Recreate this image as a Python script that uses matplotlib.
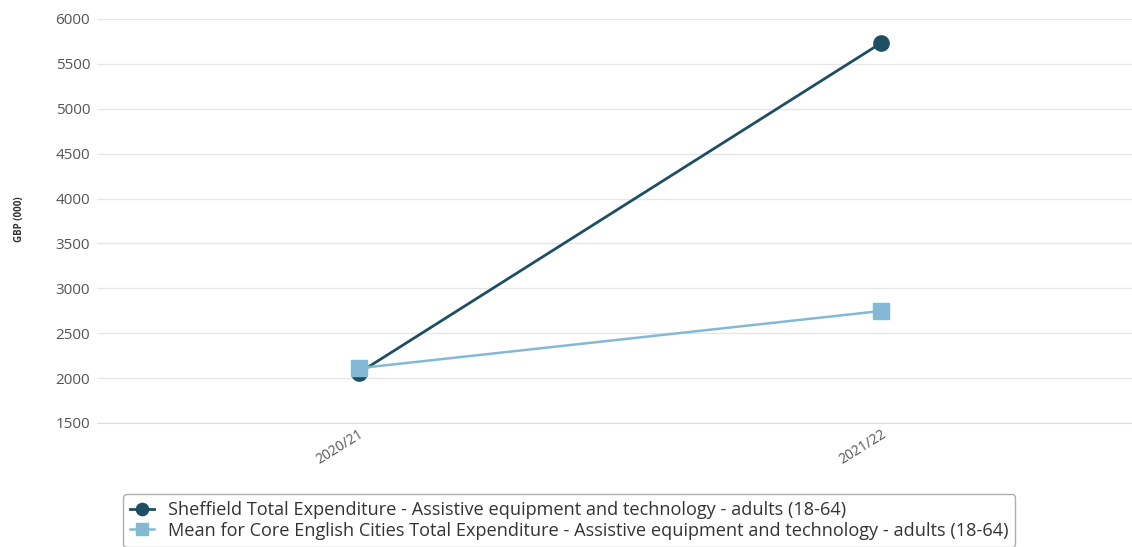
import matplotlib
matplotlib.use("Agg")
import matplotlib.pyplot as plt

plt.rcParams['font.family'] = ['Open Sans', 'DejaVu Sans']

years = ['2020/21', '2021/22']
sheffield = [2055, 5735]
core_cities_mean = [2110, 2748]
yticks = [1500, 2000, 2500, 3000, 3500, 4000, 4500, 5000, 5500, 6000]

label_sheffield = 'Sheffield Total Expenditure - Assistive equipment and technology - adults (18-64)'
label_mean = 'Mean for Core English Cities Total Expenditure - Assistive equipment and technology - adults (18-64)'

dark = '#1d4e63'
light = '#84b9d6'

fig = plt.figure(figsize=(11.32, 5.47), dpi=100)
ax = fig.add_axes([0.0857, 0.2267, 0.924, 0.7386])

x = range(len(years))
ax.plot(x, sheffield, color=dark, lw=2, marker='o', ms=11, label=label_sheffield, zorder=3)
ax.plot(x, core_cities_mean, color=light, lw=1.8, marker='s', ms=11, label=label_mean, zorder=4)

ax.set_xlim(-0.5, 1.5)
ax.set_ylim(1500, 6000)
ax.set_yticks(yticks)
ax.set_xticks(list(x))
ax.set_xticklabels(years, rotation=32, ha='right', rotation_mode='anchor')
ax.tick_params(axis='both', length=0, labelcolor='#555555')
ax.tick_params(axis='y', pad=5, labelsize=11)
ax.tick_params(axis='x', pad=3, labelsize=10)

ax.grid(axis='y', color='#e6e6e6', lw=1)
ax.set_axisbelow(True)
for side in ['top', 'right', 'left']:
    ax.spines[side].set_visible(False)
ax.spines['bottom'].set_color('#dddddd')

fig.text(0.017, 0.6, 'GBP (000)', rotation=90, fontsize=7, fontweight='bold',
         color='#333333', ha='center', va='center')

leg = fig.legend(loc='upper left', bbox_to_anchor=(0.1087, 0.097), fontsize=13.1,
                 frameon=True, fancybox=True, handlelength=1.3, handletextpad=0.75,
                 borderpad=0.4, labelspacing=0.14, markerscale=0.8, borderaxespad=0)
leg.get_frame().set_edgecolor('#999999')
leg.get_frame().set_linewidth(1)
for t in leg.get_texts():
    t.set_color('#333333')

fig.savefig('out.png', dpi=100)
